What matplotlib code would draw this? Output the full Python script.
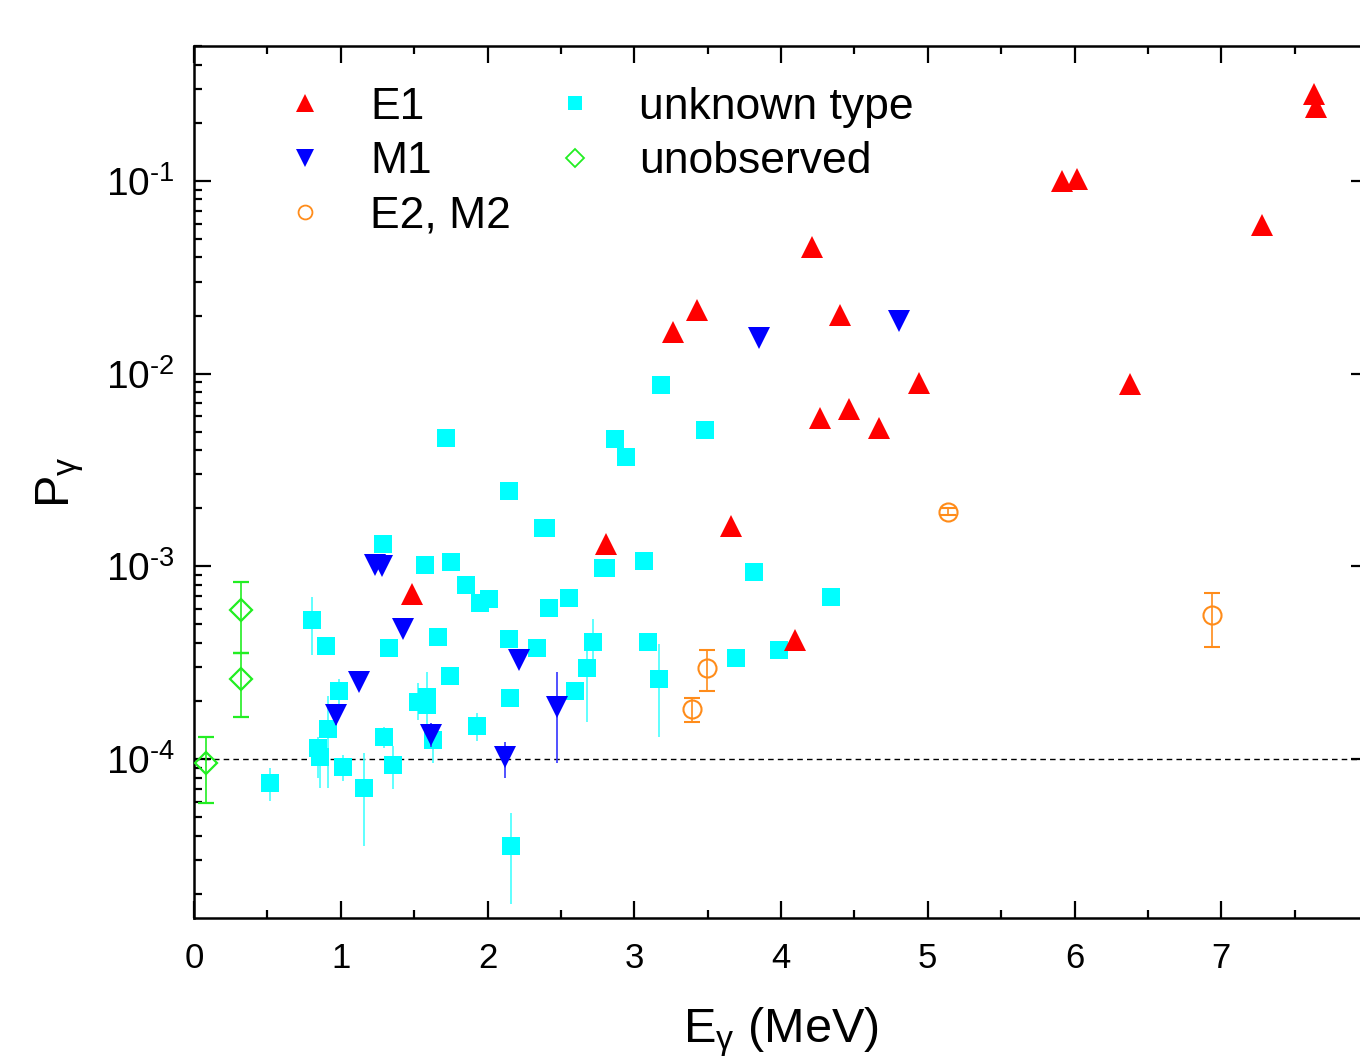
import matplotlib
matplotlib.use("Agg")
import matplotlib.pyplot as plt
import numpy as np
from matplotlib.lines import Line2D
from matplotlib.ticker import LogLocator, FixedLocator, MultipleLocator, NullFormatter

plt.rcParams['font.family'] = ['Liberation Sans', 'DejaVu Sans']
plt.rcParams['mathtext.default'] = 'regular'
plt.rcParams['mathtext.fontset'] = 'custom'
plt.rcParams['mathtext.rm'] = 'Liberation Sans'
plt.rcParams['mathtext.it'] = 'Liberation Sans:italic'

# ---------------- data ----------------
# E1 transitions
e1_x = [1.483, 2.807, 3.263, 3.429, 3.660, 4.096, 4.210, 4.269, 4.403, 4.460, 4.671, 4.943,
        5.917, 6.017, 6.376, 7.275, 7.629, 7.643]
e1_y = [7.2e-4, 1.3e-3, 0.0165, 0.0214, 1.62e-3, 4.15e-4, 0.0454, 5.86e-3, 0.0201, 6.53e-3,
        5.2e-3, 8.98e-3, 0.0992, 0.102, 8.8e-3, 0.0591, 0.2825, 0.2425]

# M1 transitions
m1_x = [0.965, 1.124, 1.233, 1.278, 1.426, 1.612, 2.119, 2.214, 2.477, 3.849, 4.805]
m1_y = [1.69e-4, 2.52e-4, 1.02e-3, 1.0e-3, 4.76e-4, 1.33e-4, 1.02e-4, 3.27e-4, 1.87e-4, 0.01535, 0.0188]
m1_hi = [1.93e-4, 2.62e-4, 1.05e-3, 1.03e-3, 4.9e-4, 1.54e-4, 1.23e-4, 3.37e-4, 2.84e-4, 0.0158, 0.0193]
m1_lo = [1.50e-4, 2.42e-4, 0.99e-3, 0.97e-3, 4.6e-4, 1.16e-4, 0.80e-4, 3.17e-4, 0.95e-4, 0.0149, 0.0183]

# E2, M2 transitions
e2_x = [3.395, 3.499, 5.138, 6.935]
e2_y = [1.83e-4, 2.98e-4, 1.92e-3, 5.58e-4]
e2_hi = [2.08e-4, 3.68e-4, 2.0e-3, 7.26e-4]
e2_lo = [1.55e-4, 2.25e-4, 1.84e-3, 3.81e-4]

# unobserved
un_x = [0.082, 0.318, 0.318]
un_y = [9.5e-5, 2.6e-4, 5.93e-4]
un_hi = [1.31e-4, 3.55e-4, 8.3e-4]
un_lo = [5.9e-5, 1.66e-4, 3.55e-4]

# unknown type
uk_x = [0.518, 0.802, 0.897, 0.847, 0.858, 0.915, 0.988, 1.017, 1.158, 1.285,
        1.326, 1.294, 1.353, 1.576, 1.665, 1.717, 1.744, 1.753, 1.853, 1.948,
        2.010, 1.528, 1.585, 1.585, 1.626, 1.926, 2.146, 2.148, 2.153, 2.157,
        2.334, 2.380, 2.400, 2.418, 2.557, 2.595, 2.675, 2.716, 2.790, 2.810,
        2.868, 2.947, 3.065, 3.093, 3.168, 3.179, 3.481, 3.695, 3.819, 3.983,
        4.341]
uk_y = [7.48e-5, 5.26e-4, 3.85e-4, 1.14e-4, 1.03e-4, 1.43e-4, 2.25e-4, 9.1e-5, 7.1e-5, 1.3e-3,
        3.78e-4, 1.31e-4, 9.3e-5, 1.02e-3, 4.32e-4, 4.64e-3, 2.7e-4, 1.05e-3, 8.0e-4, 6.47e-4,
        6.74e-4, 1.98e-4, 2.1e-4, 1.9e-4, 1.26e-4, 1.48e-4, 2.47e-3, 4.2e-4, 2.08e-4, 3.55e-5,
        3.75e-4, 1.59e-3, 1.59e-3, 6.05e-4, 6.83e-4, 2.25e-4, 2.96e-4, 4.07e-4, 9.8e-4, 9.8e-4,
        4.56e-3, 3.71e-3, 1.06e-3, 4.07e-4, 2.6e-4, 8.73e-3, 5.09e-3, 3.33e-4, 9.3e-4, 3.68e-4,
        6.9e-4]
uk_hi = [8.95e-5, 6.95e-4, 3.95e-4, 1.31e-4, 1.2e-4, 2.13e-4, 2.6e-4, 1.05e-4, 1.07e-4, 1.33e-3,
         3.88e-4, 1.47e-4, 1.17e-4, 1.04e-3, 4.42e-4, 4.7e-3, 2.78e-4, 1.07e-3, 8.15e-4, 6.6e-4,
         6.87e-4, 2.49e-4, 2.84e-4, 1.98e-4, 1.5e-4, 1.73e-4, 2.52e-3, 4.3e-4, 2.2e-4, 5.28e-5,
         3.83e-4, 1.62e-3, 1.62e-3, 6.15e-4, 6.95e-4, 2.32e-4, 4.4e-4, 5.35e-4, 1.0e-3, 1.0e-3,
         4.62e-3, 3.76e-3, 1.08e-3, 4.15e-4, 3.94e-4, 8.85e-3, 5.15e-3, 3.5e-4, 9.45e-4, 3.75e-4,
         7.0e-4]
uk_lo = [6.05e-5, 3.47e-4, 3.75e-4, 8.0e-5, 7.1e-5, 7.1e-5, 1.89e-4, 7.7e-5, 3.54e-5, 1.27e-3,
         3.68e-4, 1.14e-4, 7.0e-5, 1.0e-3, 4.22e-4, 4.58e-3, 2.62e-4, 1.03e-3, 7.85e-4, 6.35e-4,
         6.61e-4, 1.6e-4, 1.5e-4, 1.82e-4, 9.5e-5, 1.24e-4, 2.42e-3, 4.1e-4, 1.87e-4, 1.77e-5,
         3.67e-4, 1.56e-3, 1.56e-3, 5.95e-4, 6.71e-4, 2.18e-4, 1.55e-4, 2.73e-4, 9.6e-4, 9.6e-4,
         4.5e-3, 3.66e-3, 1.04e-3, 3.99e-4, 1.31e-4, 8.6e-3, 5.03e-3, 3.15e-4, 9.15e-4, 3.61e-4,
         6.8e-4]

threshold = 1e-4
x_ticks = [0, 1, 2, 3, 4, 5, 6, 7, 8]
y_ticks = [1e-4, 1e-3, 1e-2, 1e-1]
y_labels = [r'$10^{\text{-4}}$', r'$10^{\text{-3}}$', r'$10^{\text{-2}}$', r'$10^{\text{-1}}$']
legend_labels = ['E1', 'M1', 'E2, M2', 'unknown type', 'unobserved']

C_E1, C_M1, C_E2, C_UK, C_UN = '#ff0000', '#0000ff', '#ff8c1a', '#00ffff', '#22ee22'


def yerr(y, hi, lo):
    y = np.asarray(y); hi = np.asarray(hi); lo = np.asarray(lo)
    return np.vstack([y - lo, hi - y])


fig = plt.figure(figsize=(13.6, 10.61), dpi=100)
ax = fig.add_axes([194/1360, 143/1061, (1368-194)/1360, (1015-143)/1061])

cap = 5.8
elw = 1.2
ax.errorbar(uk_x, uk_y, yerr=yerr(uk_y, uk_hi, uk_lo), fmt='s', color=C_UK,
            ecolor='#44ffff', elinewidth=elw, capsize=cap, capthick=elw,
            markersize=12.5, markeredgewidth=0, zorder=3)
ax.errorbar(un_x, un_y, yerr=yerr(un_y, un_hi, un_lo), fmt='D', color=C_UN,
            mfc='none', mec=C_UN, mew=1.6, ecolor=C_UN, elinewidth=elw,
            capsize=cap, capthick=elw, markersize=11.5, zorder=4)
ax.errorbar(e2_x, e2_y, yerr=yerr(e2_y, e2_hi, e2_lo), fmt='o', color=C_E2,
            mfc='none', mec=C_E2, mew=1.5, ecolor=C_E2, elinewidth=elw,
            capsize=cap, capthick=elw, markersize=13, zorder=4)
ax.errorbar(m1_x, m1_y, yerr=yerr(m1_y, m1_hi, m1_lo), fmt='v', color=C_M1,
            ecolor='#3333ff', elinewidth=elw, capsize=cap, capthick=elw,
            markersize=16, markeredgewidth=0, zorder=5)
ax.plot(e1_x, e1_y, '^', color=C_E1, markersize=16, markeredgewidth=0, zorder=5)

ax.axhline(threshold, color='black', lw=1.0, ls=(0, (4, 3)), zorder=2)

ax.set_yscale('log')
ax.set_xlim(0, 8)
ax.set_ylim(1.5e-5, 0.5)

ax.xaxis.set_major_locator(FixedLocator(x_ticks))
ax.xaxis.set_minor_locator(MultipleLocator(0.5))
ax.yaxis.set_major_locator(FixedLocator(y_ticks))
ax.set_yticklabels(y_labels)
ax.yaxis.set_minor_locator(LogLocator(base=10, subs=np.arange(2, 10)))
ax.yaxis.set_minor_formatter(NullFormatter())

ax.tick_params(which='both', direction='in', top=True, right=True, width=1.6)
ax.tick_params(which='major', length=12)
ax.tick_params(which='minor', length=6)
ax.tick_params(axis='x', which='major', labelsize=25, pad=17)
ax.tick_params(axis='y', which='major', labelsize=28, pad=14)
for s in ax.spines.values():
    s.set_linewidth(1.8)

ax.set_xlabel(r'$E_{\gamma}$ (MeV)', fontsize=35, labelpad=22)
ax.set_ylabel(r'$P_{\gamma}$', fontsize=35, labelpad=14)

handles = [
    Line2D([], [], ls='none', marker='^', color=C_E1, markersize=12.5, mew=0),
    Line2D([], [], ls='none', marker='v', color=C_M1, markersize=12.5, mew=0),
    Line2D([], [], ls='none', marker='o', mfc='none', mec=C_E2, mew=1.3, markersize=10),
    Line2D([], [], ls='none', marker='s', color=C_UK, markersize=9.5, mew=0),
    Line2D([], [], ls='none', marker='D', mfc='none', mec=C_UN, mew=1.3, markersize=9.5),
]
ax.legend(handles, legend_labels, ncol=2, frameon=False, fontsize=32,
          loc='upper left', bbox_to_anchor=(0.0758, 0.953), borderpad=0, borderaxespad=0,
          handlelength=1.0, handletextpad=0.96, columnspacing=0.93, labelspacing=0.295)

fig.savefig('out.png', dpi=100)
